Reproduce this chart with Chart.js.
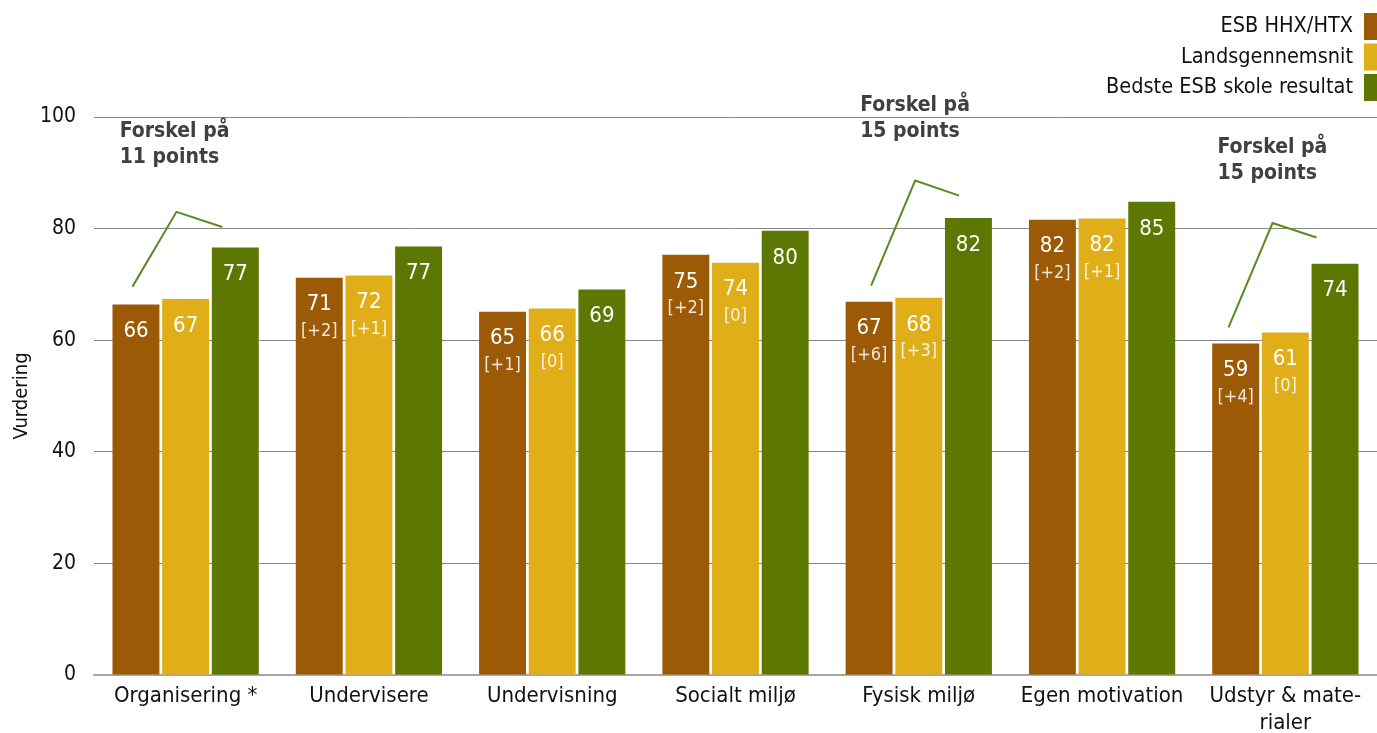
<!DOCTYPE html>
<html>
<head>
<meta charset="utf-8">
<script src="https://cdn.jsdelivr.net/npm/chart.js@4"></script>
<style>
  html, body { margin: 0; padding: 0; background: #fff; }
  #wrap { width: 1377px; height: 733px; position: relative; }
</style>
</head>
<body>
<div id="wrap"><canvas id="chart"></canvas></div>
<script>
const categories = ['Organisering *', 'Undervisere', 'Undervisning', 'Socialt miljø', 'Fysisk miljø', 'Egen motivation', ['Udstyr & mate-', 'rialer']];
const seriesNames = ['ESB HHX/HTX', 'Landsgennemsnit', 'Bedste ESB skole resultat'];
const esbValues = [66.4, 71.2, 65.1, 75.3, 66.9, 81.6, 59.4];
const landsValues = [67.4, 71.6, 65.7, 73.9, 67.6, 81.8, 61.4];
const bestValues = [76.6, 76.8, 69.1, 79.6, 81.9, 84.8, 73.7];
// change vs. last year, shown in brackets
const esbChange = [null, '+2', '+1', '+2', '+6', '+2', '+4'];
const landsChange = [null, '+1', '0', '0', '+3', '+1', '0'];
const yTicks = [0, 20, 40, 60, 80, 100];
// categories with a "Forskel på" callout
const gapCategories = [0, 4, 6];

const colors = ['#9c5906', '#e0ae18', '#5e7602'];
const FONT = "'DejaVu Sans Condensed', 'DejaVu Sans', sans-serif";

// callout geometry in scale units: x = category index + offset, y = value
const callouts = [
    { line: [[-0.29, 69.6], [-0.05, 83.0], [0.20, 80.3]], text: [-0.36, 96.4] },
    { line: [[-0.26, 69.8], [-0.02, 88.6], [0.22, 85.9]], text: [-0.32, 101.1] },
    { line: [[-0.31, 62.3], [-0.07, 81.0], [0.17, 78.4]], text: [-0.37, 93.6] }
];

const labelPlugin = {
    id: 'labels',
    afterDatasetsDraw(chart) {
        const ctx = chart.ctx;
        const changes = [esbChange, landsChange, null];
        ctx.save();
        ctx.textAlign = 'center';
        ctx.textBaseline = 'middle';
        chart.data.datasets.forEach((ds, i) => {
            const meta = chart.getDatasetMeta(i);
            meta.data.forEach((bar, j) => {
                ctx.fillStyle = '#fff';
                ctx.font = '22px ' + FONT;
                ctx.fillText(Math.round(ds.data[j]), bar.x, bar.y + 27);
                if (changes[i] && changes[i][j] !== null) {
                    ctx.fillStyle = 'rgba(255,255,255,0.85)';
                    ctx.font = '18px ' + FONT;
                    ctx.fillText('[' + changes[i][j] + ']', bar.x, bar.y + 54);
                }
            });
        });
        ctx.restore();
    }
};

const calloutPlugin = {
    id: 'callouts',
    afterDraw(chart) {
        const ctx = chart.ctx;
        const xs = chart.scales.x, ys = chart.scales.y;
        const catW = xs.width / categories.length;
        const px = (idx, off) => xs.getPixelForValue(idx) + off * catW;
        ctx.save();
        gapCategories.forEach((idx, k) => {
            const c = callouts[k];
            ctx.strokeStyle = '#5a8a22';
            ctx.lineWidth = 2;
            ctx.beginPath();
            c.line.forEach((p, n) => {
                const x = px(idx, p[0]), y = ys.getPixelForValue(p[1]);
                if (n === 0) ctx.moveTo(x, y); else ctx.lineTo(x, y);
            });
            ctx.stroke();
            const gap = Math.round(bestValues[idx]) - Math.round(esbValues[idx]);
            ctx.fillStyle = '#404040';
            ctx.font = 'bold 21px ' + FONT;
            ctx.textAlign = 'left';
            ctx.textBaseline = 'alphabetic';
            const tx = px(idx, c.text[0]), ty = ys.getPixelForValue(c.text[1]);
            ctx.fillText('Forskel på', tx, ty);
            ctx.fillText(gap + ' points', tx, ty + 26);
        });
        // legend, top right
        ctx.font = '21.5px ' + FONT;
        ctx.textAlign = 'right';
        ctx.textBaseline = 'middle';
        seriesNames.forEach((name, i) => {
            const top = 13 + i * 30.5;
            ctx.fillStyle = colors[i];
            ctx.fillRect(chart.width - 13, top, 14, 27);
            ctx.fillStyle = '#111';
            ctx.fillText(name, chart.width - 24, top + 13.5);
        });
        ctx.restore();
    }
};

new Chart(document.getElementById('chart'), {
    type: 'bar',
    data: {
        labels: categories,
        datasets: [
            { label: seriesNames[0], data: esbValues, backgroundColor: colors[0] },
            { label: seriesNames[1], data: landsValues, backgroundColor: colors[1] },
            { label: seriesNames[2], data: bestValues, backgroundColor: colors[2] }
        ]
    },
    options: {
        responsive: true,
        maintainAspectRatio: false,
        animation: false,
        categoryPercentage: 0.813,
        barPercentage: 0.945,
        layout: { padding: { top: 117, left: 10, right: 0, bottom: 4 } },
        plugins: {
            legend: { display: false },
            tooltip: { enabled: false }
        },
        scales: {
            x: {
                afterFit(axis) { axis.height = 54; },
                grid: { display: false, drawTicks: false },
                border: { color: '#a6a6a6', width: 2 },
                ticks: { color: '#111', font: { family: FONT, size: 22, lineHeight: 1.22 }, padding: 8, maxRotation: 0, autoSkip: false }
            },
            y: {
                min: 0,
                max: 100,
                afterFit(axis) { axis.width = 84; },
                afterBuildTicks(axis) { axis.ticks = yTicks.map(v => ({ value: v })); },
                grid: { color: '#888', lineWidth: 1, drawTicks: false },
                border: { display: false },
                ticks: { color: '#111', font: { family: FONT, size: 21 }, padding: 18 },
                title: { display: true, text: 'Vurdering', color: '#111', font: { family: FONT, size: 20 }, padding: { top: 0, bottom: 0 } }
            }
        }
    },
    plugins: [labelPlugin, calloutPlugin]
});
</script>
</body>
</html>
